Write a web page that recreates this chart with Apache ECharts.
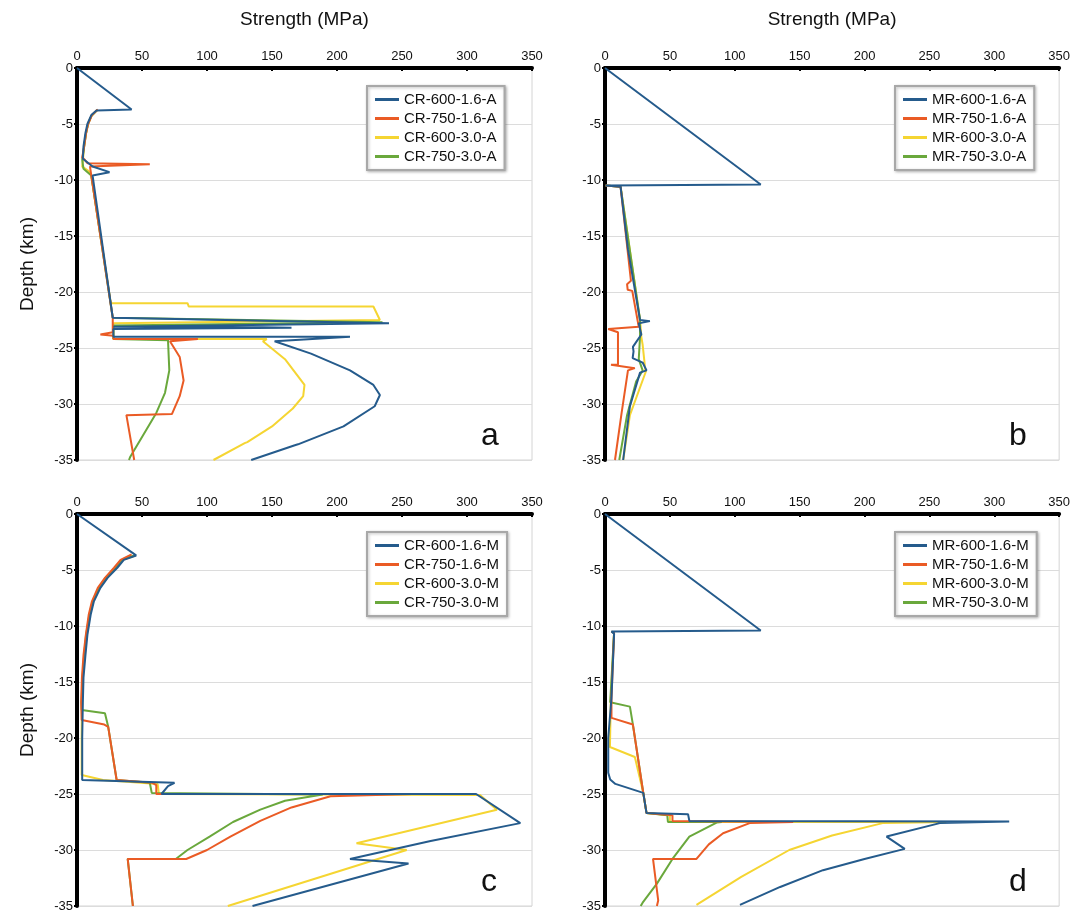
<!DOCTYPE html>
<html>
<head>
<meta charset="utf-8">
<script src="https://cdn.jsdelivr.net/npm/echarts@6/dist/echarts.min.js"></script>
<style>
  html, body { margin: 0; padding: 0; background: #fff; }
  #chart { width: 1073px; height: 913px; }
</style>
</head>
<body>
<div id="chart"></div>
<script>
// [strength MPa, depth km]
var crA_600_16 = [[0,0],[42,-3.7],[15,-3.8],[11,-4.2],[8,-5],[6.5,-5.8],[5,-7],[4.5,-8.1],[12,-8.8],[25,-9.3],[12,-9.6],[27.5,-22.3],[240,-22.8],[28,-23.1],[120,-23.1],[165,-23.2],[28,-23.3],[28,-24.0],[210,-24.0],[152,-24.4],[180,-25.5],[210,-27],[228,-28.3],[233,-29.2],[229,-30.2],[205,-32],[170,-33.6],[167,-33.7],[134,-35]];
var crA_750_16 = [[16,-3.7],[11.5,-4.2],[8.5,-5],[7,-5.8],[5.5,-7],[4,-8],[6,-8.2],[8,-8.5],[56,-8.6],[10,-8.8],[11,-9.6],[27.5,-22.3],[27.5,-23.6],[18,-23.8],[28,-23.9],[28,-24.2],[93,-24.2],[71.5,-24.4],[79,-25.8],[82,-27.9],[79,-29.3],[73,-30.9],[38,-31.0],[44,-35]];
var crA_600_30 = [[15.5,-3.75],[11,-4.3],[8.5,-5],[7,-5.8],[5.5,-7],[4.5,-8.3],[4,-8.8],[9,-9.2],[11,-9.6],[26,-21.0],[85,-21.0],[86,-21.3],[228,-21.3],[233,-22.5],[28,-22.8],[28,-24.2],[146,-24.2],[143,-24.4],[160,-26],[175,-28.3],[174,-29.3],[166,-30.4],[150,-32],[131,-33.4],[129,-33.5],[105,-35]];
var crA_750_30 = [[15.5,-3.75],[11,-4.3],[8.5,-5],[7,-5.8],[5.5,-7],[4,-8.2],[5,-9.0],[11,-9.6],[27.5,-22.3],[235,-22.7],[28,-23.0],[28,-24.2],[70,-24.3],[69,-24.4],[71,-27],[67.7,-29],[61,-30.8],[41,-34.7],[40,-35]];

var mrA_600_16 = [[0,0],[120,-10.4],[0.5,-10.5],[12,-10.6],[17.7,-16.2],[27,-22.5],[34.6,-22.6],[26,-22.8],[28,-23.8],[21.5,-24.9],[22,-25.3],[21.3,-25.9],[29,-26.3],[32,-27.0],[27,-27.2],[19.2,-30.2],[14,-35]];
var mrA_750_16 = [[0.5,-10.5],[12,-10.6],[20,-19.0],[17,-19.3],[17.5,-19.8],[21,-19.9],[26,-23.1],[2.5,-23.3],[10,-23.6],[10,-26.5],[4.6,-26.5],[23,-26.8],[17.7,-27],[12.8,-30.8],[7.7,-35]];
var mrA_600_30 = [[0.5,-10.5],[12,-10.6],[27,-22.5],[28,-24],[29,-24.7],[31,-26.9],[31.5,-27.1],[19.2,-31],[14,-35]];
var mrA_750_30 = [[0.5,-10.5],[12,-10.6],[27,-22.5],[27,-24],[26,-26],[29,-27],[24,-28],[17,-31],[11,-35]];

var crM_600_16 = [[0,0],[45.5,-3.7],[36,-4.1],[31,-4.8],[23.5,-5.7],[18,-6.6],[13,-7.8],[10.5,-9],[8,-10.8],[6.5,-12.6],[5,-14.6],[4.5,-16.8],[4,-20],[4,-23.75],[75,-24.0],[70,-24.3],[65,-25.0],[307,-25.0],[341,-27.6],[272,-29.2],[210,-30.8],[255,-31.2],[135,-35]];
var crM_750_16 = [[42,-3.6],[33.5,-4.1],[28.5,-4.8],[21.5,-5.7],[16,-6.6],[11.5,-7.8],[9,-9],[6.8,-10.8],[5,-12.6],[3.8,-14.6],[3.2,-16.8],[3.6,-18.4],[21,-18.8],[24,-19.0],[30.5,-23.75],[58,-24.0],[61,-24.2],[61,-25],[258,-25.0],[195,-25.2],[165,-26.2],[141,-27.4],[118,-28.8],[100,-30],[84,-30.8],[39,-30.8],[43,-35]];
var crM_600_30 = [[45,-3.7],[35,-4.1],[30,-4.8],[22.5,-5.7],[17,-6.6],[12.3,-7.8],[10,-9],[7.4,-10.8],[6,-12.6],[4.4,-14.6],[3.8,-16.8],[3.6,-20],[3.6,-23.3],[20,-23.75],[62,-24.1],[63,-25.0],[310,-25.1],[323,-26.4],[215,-29.4],[253.6,-30.0],[116,-35]];
var crM_750_30 = [[44,-3.7],[34.5,-4.1],[30,-4.8],[22,-5.7],[17,-6.6],[12,-7.8],[9.5,-9],[7,-10.8],[5.5,-12.6],[4.2,-14.6],[3.5,-16.8],[3.6,-17.5],[21.5,-17.8],[24,-19.0],[30.5,-23.75],[56,-24.0],[57.5,-24.9],[189,-25.05],[160,-25.6],[141,-26.4],[120,-27.5],[102,-28.8],[85,-30.0],[76,-30.8],[39,-30.8],[43,-35]];

var mrM_600_16 = [[0,0],[120,-10.4],[5,-10.5],[7,-10.7],[5,-16.4],[2.5,-20],[2.5,-23.1],[4,-23.7],[8,-24.1],[29.5,-24.9],[32,-26.7],[64,-26.8],[65,-27.4],[311.5,-27.45],[258,-27.6],[217,-28.8],[231,-29.9],[200,-30.8],[168,-31.8],[135,-33.3],[104,-34.9]];
var mrM_750_16 = [[5,-10.5],[7,-10.6],[5,-16.4],[5,-18.2],[21.5,-18.8],[29.5,-24.9],[32,-26.7],[52,-26.9],[52,-27.4],[145,-27.5],[111.5,-27.6],[91,-28.5],[80,-29.5],[70.5,-30.8],[37,-30.8],[41,-34.5],[40,-35]];
var mrM_600_30 = [[5,-10.5],[7,-10.6],[4.5,-16.4],[3.8,-20.8],[23,-21.7],[29.5,-24.9],[32,-26.7],[50,-26.9],[50,-27.5],[263,-27.5],[214,-27.6],[175,-28.7],[142,-30],[105,-32.4],[70.5,-34.9]];
var mrM_750_30 = [[5,-10.5],[7,-10.6],[4,-16.8],[3.8,-16.9],[19.2,-17.2],[21.5,-18.8],[29.5,-24.9],[32,-26.7],[48,-26.9],[48.5,-27.5],[90,-27.5],[86,-27.55],[65,-28.8],[52,-30.8],[40,-33],[29,-34.7],[27.5,-35]];

var panelLetters = ['a', 'b', 'c', 'd'];
var panelNames = [
  ['CR-600-1.6-A', 'CR-750-1.6-A', 'CR-600-3.0-A', 'CR-750-3.0-A'],
  ['MR-600-1.6-A', 'MR-750-1.6-A', 'MR-600-3.0-A', 'MR-750-3.0-A'],
  ['CR-600-1.6-M', 'CR-750-1.6-M', 'CR-600-3.0-M', 'CR-750-3.0-M'],
  ['MR-600-1.6-M', 'MR-750-1.6-M', 'MR-600-3.0-M', 'MR-750-3.0-M']
];
var panelData = [
  [crA_600_16, crA_750_16, crA_600_30, crA_750_30],
  [mrA_600_16, mrA_750_16, mrA_600_30, mrA_750_30],
  [crM_600_16, crM_750_16, crM_600_30, crM_750_30],
  [mrM_600_16, mrM_750_16, mrM_600_30, mrM_750_30]
];

var colors = ['#255b8c', '#ea5b25', '#f5d532', '#6aa83c'];
var zs = [5, 4, 3, 3];
var sans = "'Liberation Sans', Arial, sans-serif";

var boxes = [
  { left: 77, top: 68 },
  { left: 605, top: 68 },
  { left: 77, top: 514 },
  { left: 605, top: 514 }
];
var W = 455, H = 392;

var grids = [], xAxes = [], yAxes = [], legends = [], series = [], graphics = [];
boxes.forEach(function (b, p) {
  grids.push({ left: b.left, top: b.top, width: W, height: H, show: true, borderColor: '#d4d4d4', borderWidth: 1 });
  xAxes.push({
    gridIndex: p, type: 'value', position: 'top', min: 0, max: 350, interval: 50,
    name: p < 2 ? 'Strength (MPa)' : '', nameLocation: 'middle', nameGap: 39,
    nameTextStyle: { fontSize: 19, color: '#111', fontFamily: sans },
    axisLine: { show: true, onZero: false, lineStyle: { color: '#000', width: 4 } },
    axisTick: { show: true, inside: true, length: 3, lineStyle: { color: '#000', width: 2 } },
    axisLabel: { fontSize: 13, color: '#111', fontFamily: sans, margin: 5 },
    splitLine: { show: false }
  });
  yAxes.push({
    gridIndex: p, type: 'value', min: -35, max: 0, interval: 5,
    name: (p % 2 === 0) ? 'Depth (km)' : '', nameLocation: 'middle', nameRotate: 90, nameGap: 40,
    nameTextStyle: { fontSize: 19, color: '#111', fontFamily: sans },
    axisLine: { show: true, onZero: false, lineStyle: { color: '#000', width: 4 } },
    axisTick: { show: true, length: 3, lineStyle: { color: '#000', width: 2 } },
    axisLabel: { fontSize: 13, color: '#111', fontFamily: sans, margin: 4 },
    splitLine: { show: true, lineStyle: { color: '#dcdcdc', width: 1 } }
  });
  legends.push({
    data: panelNames[p], orient: 'vertical',
    left: b.left + 290, top: b.top + 18,
    icon: 'rect', itemWidth: 24, itemHeight: 3, itemGap: 4,
    padding: [6, 8, 6, 8],
    borderColor: '#a8a8a8', borderWidth: 2, backgroundColor: '#fff',
    shadowColor: 'rgba(0,0,0,0.25)', shadowBlur: 3, shadowOffsetX: 1, shadowOffsetY: 1,
    textStyle: { fontSize: 15, color: '#111', fontFamily: sans }
  });
  panelNames[p].forEach(function (nm, k) {
    series.push({
      name: nm, type: 'line', xAxisIndex: p, yAxisIndex: p,
      data: panelData[p][k], showSymbol: false, symbol: 'none',
      z: zs[k], color: colors[k],
      lineStyle: { color: colors[k], width: 2 }
    });
  });
  graphics.push({
    type: 'text', left: b.left + 404, top: b.top + 352,
    style: { text: panelLetters[p], fontSize: 32, fill: '#111', fontFamily: sans }
  });
});

var chart = echarts.init(document.getElementById('chart'));
chart.setOption({
  animation: false,
  backgroundColor: '#fff',
  grid: grids,
  xAxis: xAxes,
  yAxis: yAxes,
  legend: legends,
  series: series,
  graphic: graphics
});
</script>
</body>
</html>
